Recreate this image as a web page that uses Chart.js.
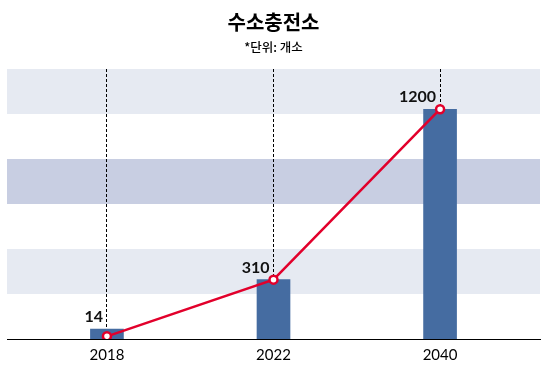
<!DOCTYPE html>
<html>
<head>
<meta charset="utf-8">
<script src="https://cdn.jsdelivr.net/npm/chart.js@4"></script>
<style>
  html, body { margin: 0; padding: 0; background: #fff; }
  #wrap { width: 549px; height: 386px; }
</style>
</head>
<body>
<div id="wrap"><canvas id="c" width="549" height="386"></canvas></div>
<script>
const categories = ['2018', '2022', '2040'];
const stationCounts = [14, 310, 1200];
const titleText = '수소충전소';
const unitText = '*단위: 개소';

const BAR_COLOR = '#456ca1';
const LINE_COLOR = '#e2002b';
const BAND_COLORS = ['#e6eaf2', '#ffffff', '#c8cee2', '#ffffff', '#e6eaf2', '#ffffff'];

const bandsPlugin = {
  id: 'bands',
  beforeDraw(chart) {
    const { ctx, chartArea: a } = chart;
    const n = BAND_COLORS.length;
    const h = (a.bottom - a.top) / n;
    ctx.save();
    BAND_COLORS.forEach((c, i) => {
      ctx.fillStyle = c;
      ctx.fillRect(a.left, a.top + i * h, a.right - a.left, h);
    });
    ctx.restore();
  }
};

const labelPlugin = {
  id: 'valueLabels',
  afterDatasetsDraw(chart) {
    const { ctx } = chart;
    const meta = chart.getDatasetMeta(1);
    ctx.save();
    ctx.font = 'bold 16px Lato, "Noto Sans", sans-serif';
    ctx.fillStyle = '#111';
    ctx.textAlign = 'right';
    ctx.textBaseline = 'alphabetic';
    meta.data.forEach((el, i) => {
      ctx.fillText(String(stationCounts[i]), el.x - 4, el.y - 7);
    });
    ctx.restore();
  }
};

const points = stationCounts.map((v, i) => ({ x: i, y: v }));

new Chart(document.getElementById('c'), {
  data: {
    datasets: [
      {
        type: 'line',
        data: points,
        borderColor: LINE_COLOR,
        borderWidth: 2.5,
        pointRadius: 4,
        pointBackgroundColor: '#ffffff',
        pointBorderColor: LINE_COLOR,
        pointBorderWidth: 2.5,
        tension: 0,
        order: 0
      },
      {
        type: 'bar',
        data: points,
        backgroundColor: BAR_COLOR,
        barThickness: 33,
        minBarLength: 10,
        order: 1
      }
    ]
  },
  options: {
    responsive: false,
    animation: false,
    devicePixelRatio: 1,
    layout: { padding: { left: 7, right: 9, top: 0, bottom: 15 } },
    plugins: {
      legend: { display: false },
      tooltip: { enabled: false },
      title: {
        display: true,
        text: titleText,
        color: '#000',
        font: { family: '"Noto Sans CJK KR", sans-serif', size: 20, weight: 'bold' },
        padding: { top: 10, bottom: 6 }
      },
      subtitle: {
        display: true,
        text: unitText,
        color: '#000',
        font: { family: '"Noto Sans CJK KR", sans-serif', size: 12.5, weight: '500' },
        padding: { top: 0, bottom: 14 }
      }
    },
    scales: {
      x: {
        type: 'linear',
        offset: false,
        min: -0.6,
        max: 2.6,
        afterBuildTicks(scale) {
          scale.ticks = categories.map((_, i) => ({ value: i }));
        },
        ticks: {
          callback: (v) => categories[v],
          color: '#000',
          font: { family: 'Lato, "Noto Sans", sans-serif', size: 15 },
          padding: 7,
          maxRotation: 0,
          autoSkip: false
        },
        grid: {
          offset: false,
          color: '#000',
          lineWidth: 1,
          drawTicks: false
        },
        border: { display: true, color: '#000', width: 1, dash: [3, 2] }
      },
      y: {
        display: false,
        min: 0,
        max: 1410
      }
    }
  },
  plugins: [bandsPlugin, labelPlugin]
});
</script>
</body>
</html>
